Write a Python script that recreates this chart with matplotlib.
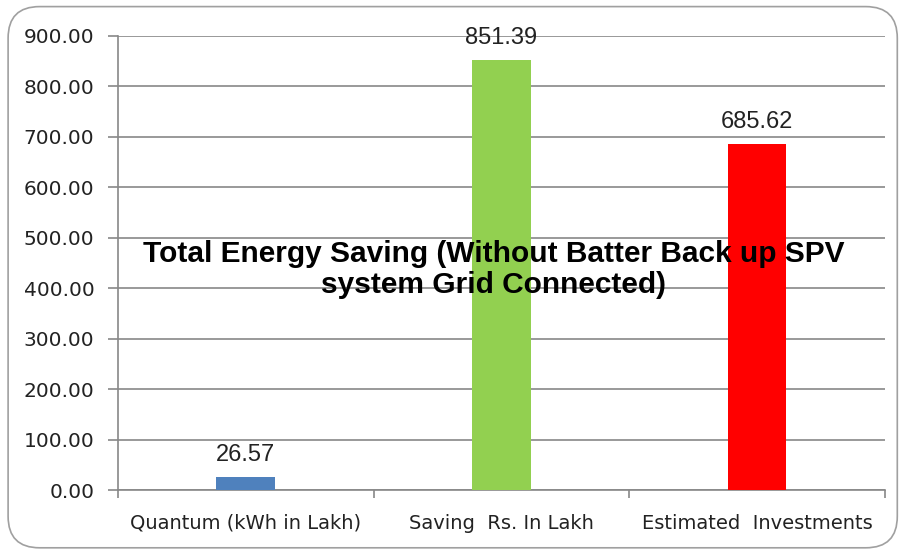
import matplotlib.pyplot as plt
from matplotlib.patches import FancyBboxPatch

categories = ['Quantum (kWh in Lakh)', 'Saving  Rs. In Lakh', 'Estimated  Investments']
values = [26.57, 851.39, 685.62]
colors = ['#4F81BD', '#92D050', '#FF0000']
yticks = [0, 100, 200, 300, 400, 500, 600, 700, 800, 900]
title = 'Total Energy Saving (Without Batter Back up SPV\nsystem Grid Connected)'

fig = plt.figure(figsize=(9, 5.5), dpi=100)
ax = fig.add_axes([0.131, 0.109, 0.852, 0.826])

# rounded outer frame like the spreadsheet chart area
frame = FancyBboxPatch((0.009, 0.004), 0.988, 0.984, boxstyle='round,pad=0,rounding_size=0.035',
                       transform=fig.transFigure, facecolor='none', edgecolor='#a0a0a0',
                       linewidth=1.2, mutation_aspect=900/550)
fig.patches.append(frame)

x = list(range(len(categories)))
ax.bar(x, values, width=0.23, color=colors, zorder=3)

for xi, v in zip(x, values):
    ax.annotate(f'{v:.2f}', (xi, v), xytext=(0, 8), textcoords='offset points',
                ha='center', va='bottom', fontsize=17, family='Liberation Sans', color='#222222')

ax.set_xlim(-0.5, 2.5)
ax.set_ylim(0, 900)
ax.set_yticks(yticks)
ax.set_yticklabels([f'{t:.2f}' for t in yticks], fontsize=14.5, family='DejaVu Sans', color='#222222')
ax.set_xticks(x)
ax.set_xticklabels(categories, fontsize=14, family='DejaVu Sans', color='#222222')
ax.set_xticks([-0.5, 0.5, 1.5, 2.5], minor=True)
ax.tick_params(axis='x', which='major', length=0, pad=17)
ax.tick_params(axis='x', which='minor', length=6, color='#888888', width=1.2)
ax.tick_params(axis='y', length=7, color='#888888', width=1.2, pad=10)

ax.grid(axis='y', color='#888888', linewidth=1.2, zorder=0)
for s in ['top', 'right']:
    ax.spines[s].set_visible(False)
for s in ['left', 'bottom']:
    ax.spines[s].set_color('#888888')
    ax.spines[s].set_linewidth(1.2)

ax.text(0.49, 0.485, title, transform=ax.transAxes, ha='center', va='center',
        fontsize=21.5, fontweight='bold', family='Liberation Sans', zorder=5, linespacing=1.15)

fig.savefig('out.png', dpi=100)
